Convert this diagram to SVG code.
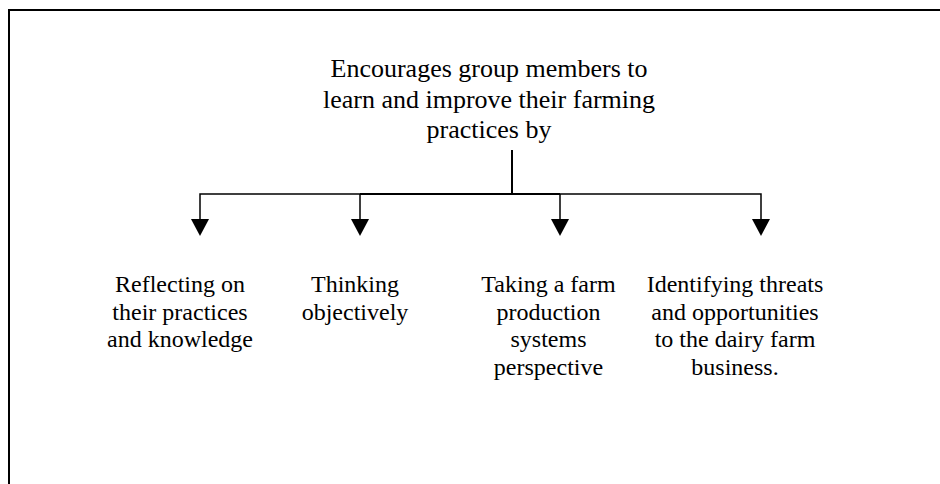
<svg xmlns="http://www.w3.org/2000/svg" width="940" height="484" viewBox="0 0 940 484">
<style>
.t{font-family:"Liberation Serif","Times New Roman",serif;fill:#000;text-anchor:middle}
.top{font-size:26px}
.lab{font-size:24px}
.ln{stroke:#000;fill:none}
.ah{fill:#000}
</style>
<rect width="940" height="484" fill="#fff"/>
<path class="ln" d="M9,484 V10 H940" stroke-width="2"/>
<g id="root">
<text class="t top" x="489" y="77">Encourages group members to</text>
<text class="t top" x="489" y="108">learn and improve their farming</text>
<text class="t top" x="489" y="138">practices by</text>
</g>
<g id="connectors">
<path class="ln" d="M512,150 V194" stroke-width="2"/>
<path class="ln" d="M360,194 H560" stroke-width="2"/>
<path class="ln" d="M200,219 V194 H360 M560,194 H761 V219 M360,194 V219 M560,194 V219" stroke-width="1.5"/>
<polygon class="ah" points="191,219 209,219 200,236"/>
<polygon class="ah" points="351,219 369,219 360,236"/>
<polygon class="ah" points="551,219 569,219 560,236"/>
<polygon class="ah" points="752,219 770,219 761,236"/>
</g>
<g id="n1">
<text class="t lab" x="180" y="292">Reflecting on</text>
<text class="t lab" x="180" y="319.5">their practices</text>
<text class="t lab" x="180" y="347">and knowledge</text>
</g>
<g id="n2">
<text class="t lab" x="355" y="292">Thinking</text>
<text class="t lab" x="355" y="319.5">objectively</text>
</g>
<g id="n3">
<text class="t lab" x="548.5" y="292">Taking a farm</text>
<text class="t lab" x="548.5" y="319.5">production</text>
<text class="t lab" x="548.5" y="347">systems</text>
<text class="t lab" x="548.5" y="374.5">perspective</text>
</g>
<g id="n4">
<text class="t lab" x="735" y="292">Identifying threats</text>
<text class="t lab" x="735" y="319.5">and opportunities</text>
<text class="t lab" x="735" y="347">to the dairy farm</text>
<text class="t lab" x="735" y="374.5">business.</text>
</g>
</svg>
